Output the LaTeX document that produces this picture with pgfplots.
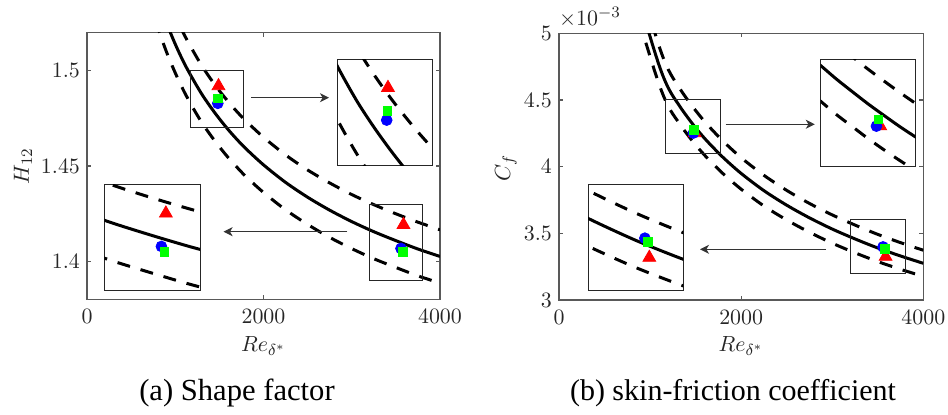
\documentclass[border=0pt]{standalone}
\usepackage{pgfplots}
\pgfplotsset{compat=1.18}
\usepackage{pgfplotstable}
\usepackage{fontspec}
\newfontfamily\capfont{Liberation Serif}
\usetikzlibrary{arrows.meta}

\pgfplotstableread{
re h hu hl
700 1.5541 1.5696 1.5386
800 1.5385 1.5539 1.5231
900 1.5253 1.5406 1.5100
1000 1.5140 1.5291 1.4989
1100 1.5041 1.5191 1.4891
1200 1.4956 1.5106 1.4806
1300 1.4878 1.5027 1.4729
1400 1.4810 1.4958 1.4662
1500 1.4748 1.4895 1.4601
1600 1.4691 1.4838 1.4544
1700 1.4639 1.4785 1.4493
1800 1.4591 1.4737 1.4445
2000 1.4506 1.4651 1.4361
2250 1.4414 1.4558 1.4270
2500 1.4336 1.4479 1.4193
2750 1.4268 1.4411 1.4125
3000 1.4208 1.4350 1.4066
3250 1.4155 1.4297 1.4013
3500 1.4108 1.4249 1.3967
3750 1.4064 1.4205 1.3923
4000 1.4025 1.4165 1.3885
}\Htab

\pgfplotstableread{
re cf cfu cfl
880 5.260 5.418 5.102
900 5.207 5.363 5.051
950 5.090 5.243 4.937
1000 4.975 5.124 4.826
1050 4.863 5.009 4.717
1100 4.758 4.901 4.615
1150 4.666 4.806 4.526
1200 4.590 4.728 4.452
1250 4.530 4.666 4.394
1300 4.479 4.613 4.345
1350 4.428 4.561 4.295
1400 4.381 4.512 4.250
1450 4.335 4.465 4.205
1500 4.292 4.421 4.163
1550 4.250 4.378 4.123
1600 4.211 4.337 4.085
1650 4.174 4.299 4.049
1800 4.070 4.192 3.948
2000 3.949 4.067 3.831
2250 3.820 3.935 3.705
2500 3.711 3.822 3.600
2750 3.616 3.724 3.508
3000 3.532 3.638 3.426
3250 3.458 3.562 3.354
3500 3.390 3.492 3.288
3750 3.330 3.430 3.230
4000 3.275 3.373 3.177
}\Cftab

\tikzset{
  boxc/.style={black!85, line width=0.5pt},
  arr/.style={-{Stealth[length=4.5pt,width=4.5pt,inset=1.3pt]}, line width=0.5pt, black!80},
}
\pgfplotsset{
  mainax/.style={scale only axis, anchor=south west,
    axis line style={black!65, line width=0.6pt},
    every tick/.style={black!65, line width=0.6pt},
    tick align=inside, major tick length=2pt,
    xmin=0, xmax=4000, xtick={0,2000,4000},
    scaled ticks=false,
    /pgf/number format/1000 sep={},
    tick label style={font=\fontsize{10.95}{13}\selectfont, text=black!85},
    xticklabel style={yshift=-1.5pt},
    axis background/.style={fill=white}},
  insetax/.style={scale only axis, anchor=south west,
    axis line style={black!85, line width=0.5pt},
    xtick=\empty, ytick=\empty, axis background/.style={fill=white}},
  solidc/.style={black, line width=1.5pt, smooth, no marks},
  dashc/.style={black, line width=1.5pt, smooth, no marks, dash pattern=on 6.5pt off 5.5pt},
  tri/.style={only marks, mark=triangle*, mark size=3.7pt, red, mark options={fill=red, draw=red}},
  circ/.style={only marks, mark=*, mark size=2.7pt, blue, mark options={fill=blue, draw=blue}},
  sq/.style={only marks, mark=square*, mark size=2.2pt, green, mark options={fill=green, draw=green}},
}

\begin{document}
\begin{tikzpicture}
\path[use as bounding box] (0,0) rectangle (474pt,207.5pt);

% ---------- left main ----------
\begin{axis}[mainax, at={(43.5pt,57.85pt)}, width=176.5pt, height=133.3pt,
  ymin=1.38, ymax=1.52, ytick={1.4,1.45,1.5}]
\addplot[solidc] table[x=re,y=h]{\Htab};
\addplot[dashc] table[x=re,y=hu]{\Htab};
\addplot[dashc] table[x=re,y=hl]{\Htab};
\draw[boxc] (axis cs:1170,1.47) rectangle (axis cs:1770,1.50);
\draw[boxc] (axis cs:3200,1.39) rectangle (axis cs:3800,1.43);
\addplot[tri] coordinates {(1490,1.4920) (3586,1.4191)};
\addplot[circ] coordinates {(1482,1.4829) (3558,1.4067)};
\addplot[sq] coordinates {(1486,1.4855) (3577,1.4047)};
\end{axis}

% left inset 1
\begin{axis}[insetax, at={(168.65pt,124.5pt)}, width=47.5pt, height=53.35pt,
  xmin=1170, xmax=1770, ymin=1.47, ymax=1.50]
\addplot[solidc] table[x=re,y=h]{\Htab};
\addplot[dashc] table[x=re,y=hu]{\Htab};
\addplot[dashc] table[x=re,y=hl]{\Htab};
\addplot[tri] coordinates {(1490,1.4920)};
\addplot[circ] coordinates {(1482,1.4829)};
\addplot[sq] coordinates {(1486,1.4855)};
\end{axis}

% left inset 2
\begin{axis}[insetax, at={(52.15pt,62pt)}, width=47.85pt, height=53.35pt,
  xmin=3200, xmax=3800, ymin=1.39, ymax=1.43]
\addplot[solidc] table[x=re,y=h]{\Htab};
\addplot[dashc] table[x=re,y=hu]{\Htab};
\addplot[dashc] table[x=re,y=hl]{\Htab};
\addplot[tri] coordinates {(3586,1.4191)};
\addplot[circ] coordinates {(3558,1.4067)};
\addplot[sq] coordinates {(3577,1.4047)};
\end{axis}

% ---------- right main ----------
\begin{axis}[mainax, at={(279.5pt,57.5pt)}, width=182.15pt, height=133.35pt,
  ymin=3, ymax=5, ytick={3,3.5,4,4.5,5}]
\addplot[solidc] table[x=re,y=cf]{\Cftab};
\addplot[dashc] table[x=re,y=cfu]{\Cftab};
\addplot[dashc] table[x=re,y=cfl]{\Cftab};
\draw[boxc] (axis cs:1170,4.1) rectangle (axis cs:1770,4.5);
\draw[boxc] (axis cs:3200,3.2) rectangle (axis cs:3800,3.6);
\addplot[tri] coordinates {(1488,4.252) (3586,3.325)};
\addplot[circ] coordinates {(1476,4.252) (3558,3.398)};
\addplot[sq] coordinates {(1482,4.277) (3577,3.384)};
\end{axis}

% right inset 1
\begin{axis}[insetax, at={(410.35pt,124.15pt)}, width=47.5pt, height=53.35pt,
  xmin=1300, xmax=1600, ymin=4.1, ymax=4.5]
\addplot[solidc] table[x=re,y=cf]{\Cftab};
\addplot[dashc] table[x=re,y=cfu]{\Cftab};
\addplot[dashc] table[x=re,y=cfl]{\Cftab};
\addplot[tri] coordinates {(1488,4.252)};
\addplot[circ] coordinates {(1476,4.252)};
\addplot[sq] coordinates {(1482,4.277)};
\end{axis}

% right inset 2
\begin{axis}[insetax, at={(294pt,62pt)}, width=47.65pt, height=53.35pt,
  xmin=3200, xmax=3800, ymin=3.2, ymax=3.6]
\addplot[solidc] table[x=re,y=cf]{\Cftab};
\addplot[dashc] table[x=re,y=cfu]{\Cftab};
\addplot[dashc] table[x=re,y=cfl]{\Cftab};
\addplot[tri] coordinates {(3586,3.325)};
\addplot[circ] coordinates {(3558,3.398)};
\addplot[sq] coordinates {(3577,3.384)};
\end{axis}

% arrows
\draw[arr] (125.5pt,158.65pt) -- (164.5pt,158.65pt);
\draw[arr] (173.7pt,91.65pt) -- (111.8pt,91.65pt);
\draw[arr] (362.8pt,145.35pt) -- (407.4pt,145.35pt);
\draw[arr] (413pt,82.85pt) -- (350pt,82.85pt);

% labels
\node[rotate=90, text=black!85, font=\fontsize{10.95}{13}\selectfont] at (11.5pt,124.5pt) {$H_{12}$};
\node[rotate=90, text=black!85, font=\fontsize{10.95}{13}\selectfont] at (253pt,123.5pt) {$C_f$};
\node[text=black!85, font=\fontsize{10.95}{13}\selectfont] at (131.75pt,34.5pt) {$Re_{\delta^*}$};
\node[text=black!85, font=\fontsize{10.95}{13}\selectfont] at (370.5pt,34.5pt) {$Re_{\delta^*}$};
\node[text=black!85, font=\fontsize{10.95}{13}\selectfont] at (295pt,199pt) {$\times10^{-3}$};
\node[font=\capfont\fontsize{15.3}{18}\selectfont] at (118.5pt,11pt) {(a) Shape factor};
\node[font=\capfont\fontsize{15}{18}\selectfont] at (366.5pt,11pt) {(b) skin-friction coefficient};
\end{tikzpicture}
\end{document}
